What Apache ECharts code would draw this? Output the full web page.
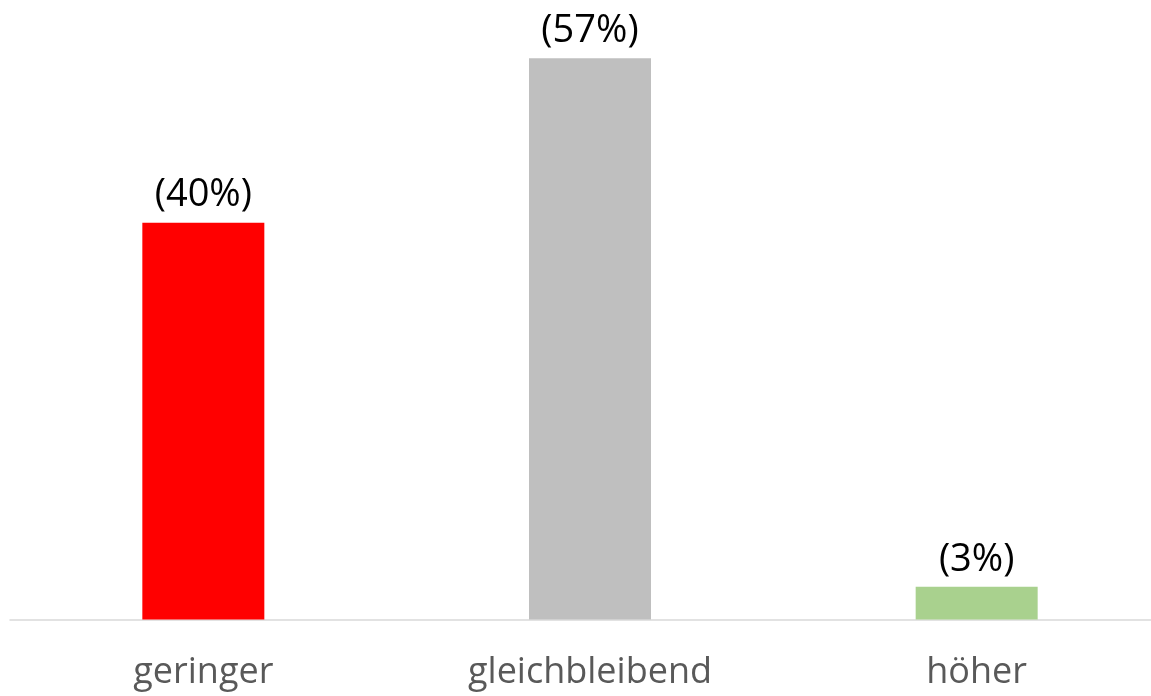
<!DOCTYPE html>
<html>
<head>
<meta charset="utf-8">
<script src="https://cdn.jsdelivr.net/npm/echarts@6/dist/echarts.min.js"></script>
<style>
html,body{margin:0;padding:0;background:#fff;}
#chart{width:1151px;height:696px;}
</style>
</head>
<body>
<div id="chart"></div>
<script>
const categories = ['geringer', 'gleichbleibend', 'höher'];
const values = [40.05, 56.64, 3.31];
const valueLabels = ['(40%)', '(57%)', '(3%)'];
const barColors = ['#FF0000', '#BFBFBF', '#A9D18E'];

const chart = echarts.init(document.getElementById('chart'), null, {renderer: 'canvas'});
chart.setOption({
  animation: false,
  backgroundColor: '#ffffff',
  grid: {left: 10, width: 1160, top: 25, bottom: 76.5, containLabel: false, outerBoundsMode: 'none'},
  xAxis: {
    type: 'category',
    data: categories,
    axisLine: {show: true, lineStyle: {color: '#D9D9D9', width: 1.5}},
    axisTick: {show: false},
    axisLabel: {color: '#595959', fontFamily: 'Open Sans', fontSize: 36, margin: 35}
  },
  yAxis: {
    type: 'value', min: 0, max: 60, show: false,
    splitLine: {show: false}
  },
  series: [{
    type: 'bar',
    barWidth: 122,
    data: values.map((v, i) => ({value: v, itemStyle: {color: barColors[i]}})),
    label: {
      show: true, position: 'top', distance: 8,
      color: '#000000', fontFamily: 'Open Sans', fontSize: 38,
      formatter: p => valueLabels[p.dataIndex]
    }
  }]
});
</script>
</body>
</html>
